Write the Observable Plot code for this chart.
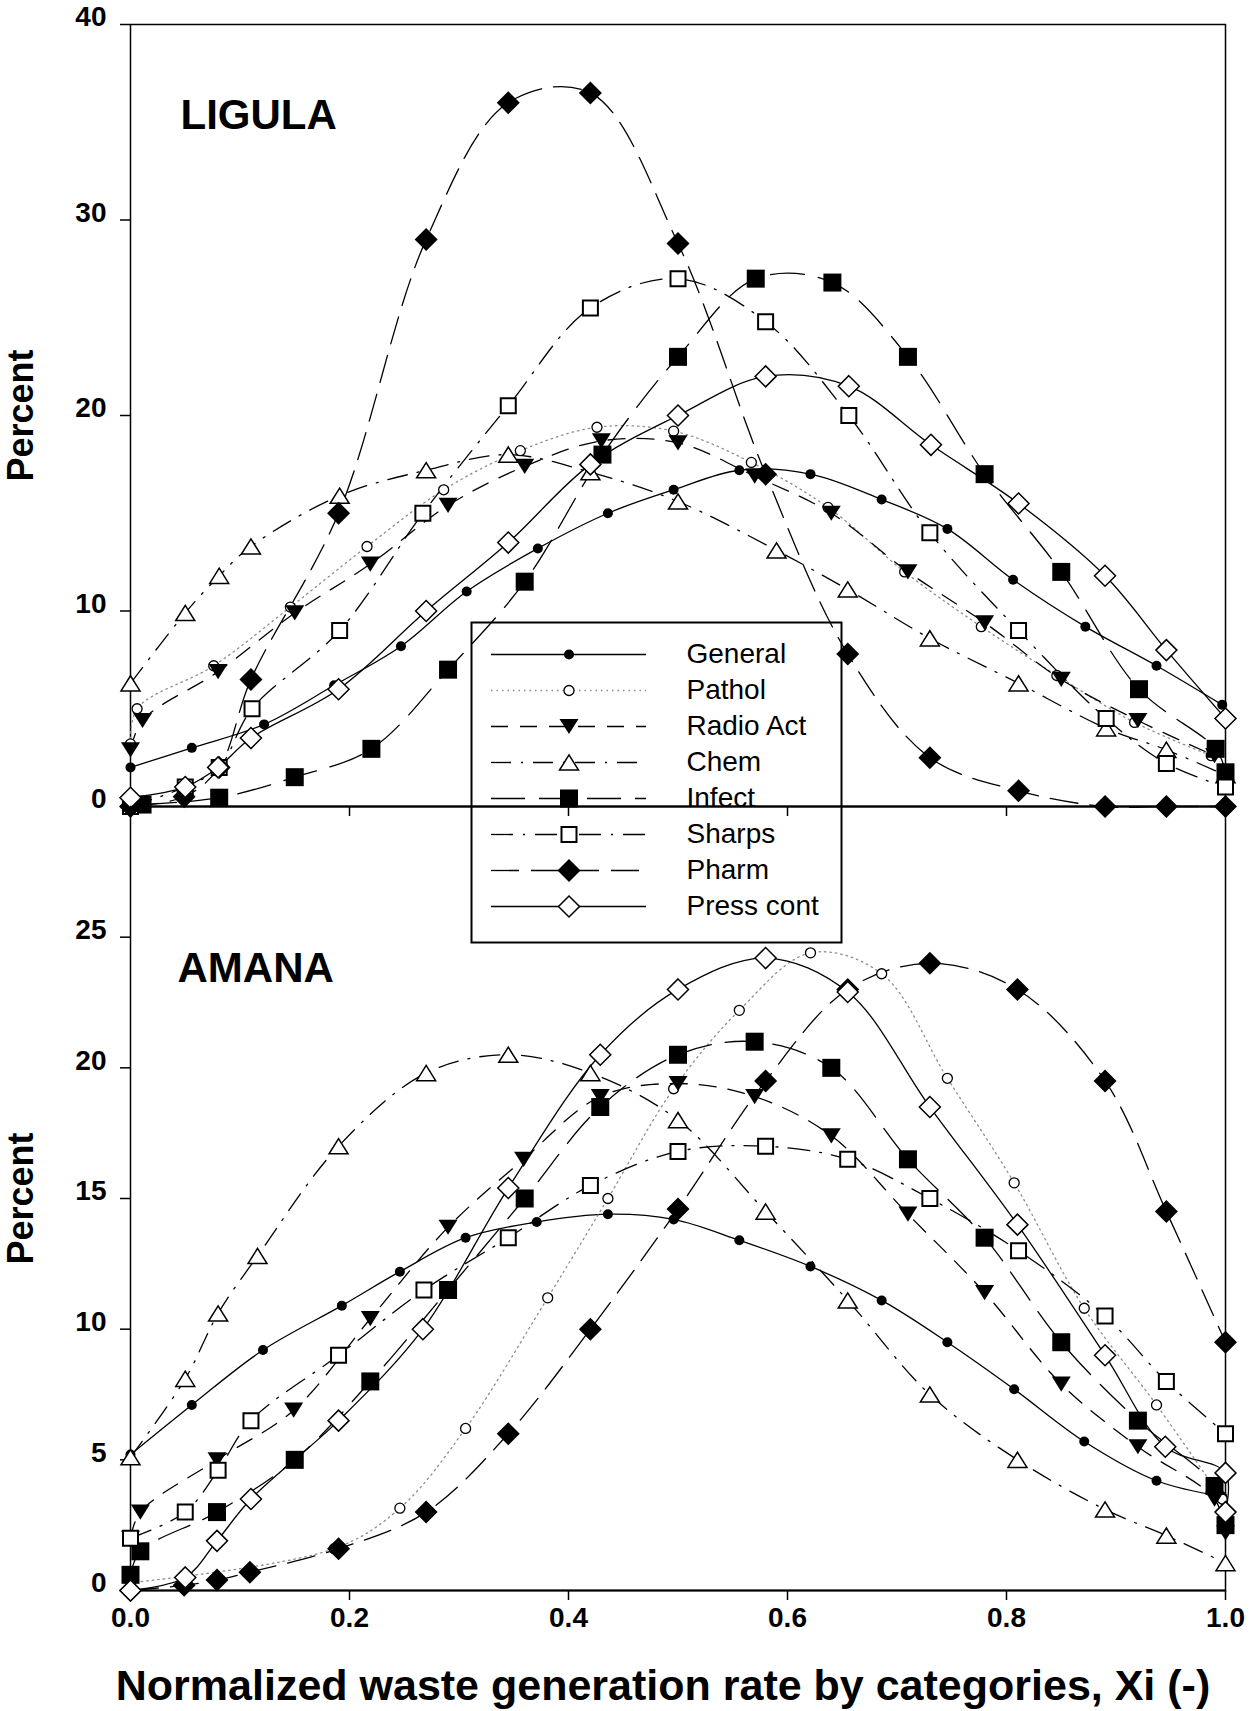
<!DOCTYPE html>
<html>
<head>
<meta charset="utf-8">
<script src="https://cdn.jsdelivr.net/npm/d3@7"></script>
<script src="https://cdn.jsdelivr.net/npm/@observablehq/plot@0.6"></script>
<style>
  html, body { margin: 0; padding: 0; background: #fff; }
  #chart { position: relative; width: 1250px; height: 1711px; overflow: hidden; background: #fff; }
  #chart > svg { position: absolute; left: 0; overflow: visible; background: transparent; }
</style>
</head>
<body>
<div id="chart"></div>
<script>
// ---- categories and ticks ----
const seriesNames = ["General", "Pathol", "Radio Act", "Chem", "Infect", "Sharps", "Pharm", "Press cont"];
const xTicks = [0, 0.2, 0.4, 0.6, 0.8, 1.0];
const yTicksLigula = [0, 10, 20, 30, 40];
const yTicksAmana = [0, 5, 10, 15, 20, 25];
const xTitle = "Normalized waste generation rate by categories, Xi (-)";

// ---- LIGULA: [Xi, percent] ----
const ligulaGeneral = [[0, 2.0], [0.056, 3.0], [0.122, 4.2], [0.186, 6.2], [0.247, 8.2], [0.307, 11.0], [0.372, 13.2], [0.436, 15.0], [0.496, 16.2], [0.556, 17.2], [0.621, 17.0], [0.686, 15.7], [0.746, 14.2], [0.806, 11.6], [0.872, 9.2], [0.937, 7.2], [0.997, 5.2]];
const ligulaPathol = [[0, 3.2], [0.006, 5.0], [0.076, 7.2], [0.146, 10.2], [0.216, 13.3], [0.286, 16.2], [0.356, 18.2], [0.426, 19.4], [0.496, 19.2], [0.567, 17.6], [0.637, 15.3], [0.707, 12.0], [0.777, 9.2], [0.846, 6.7], [0.917, 4.3], [0.987, 2.6]];
const ligulaRadioAct = [[0, 2.9], [0.011, 4.4], [0.080, 6.9], [0.150, 9.9], [0.219, 12.4], [0.290, 15.4], [0.360, 17.4], [0.430, 18.7], [0.500, 18.6], [0.570, 16.9], [0.640, 15.0], [0.710, 12.0], [0.780, 9.4], [0.850, 6.5], [0.920, 4.4], [0.990, 2.6]];
const ligulaChem = [[0, 6.3], [0.050, 9.9], [0.081, 11.8], [0.110, 13.3], [0.191, 15.9], [0.270, 17.2], [0.345, 18.0], [0.420, 17.1], [0.500, 15.6], [0.590, 13.1], [0.655, 11.1], [0.730, 8.6], [0.811, 6.3], [0.891, 4.0], [0.946, 2.9], [1.0, 1.6]];
const ligulaInfect = [[0.011, 0.1], [0.081, 0.45], [0.150, 1.5], [0.220, 2.95], [0.290, 7.0], [0.360, 11.5], [0.431, 18.0], [0.500, 23.0], [0.571, 27.0], [0.641, 26.8], [0.710, 23.0], [0.780, 17.0], [0.850, 12.0], [0.921, 6.0], [0.991, 2.95], [1.0, 1.75]];
const ligulaSharps = [[0, 0], [0.050, 1.0], [0.081, 2.0], [0.111, 5.0], [0.191, 9.0], [0.267, 15.0], [0.345, 20.5], [0.420, 25.5], [0.500, 27.0], [0.580, 24.8], [0.656, 20.0], [0.730, 14.0], [0.811, 9.0], [0.891, 4.5], [0.946, 2.2], [1.0, 1.0]];
const ligulaPharm = [[0, 0], [0.049, 0.5], [0.081, 2.0], [0.110, 6.5], [0.190, 15.0], [0.270, 29.0], [0.345, 36.0], [0.420, 36.5], [0.500, 28.8], [0.580, 17.0], [0.655, 7.8], [0.730, 2.5], [0.811, 0.8], [0.890, 0], [0.946, 0], [1.0, 0]];
const ligulaPressCont = [[0, 0.45], [0.050, 1.0], [0.080, 2.0], [0.110, 3.5], [0.190, 6.0], [0.270, 10.0], [0.345, 13.5], [0.420, 17.5], [0.500, 20.0], [0.580, 22.0], [0.656, 21.5], [0.731, 18.5], [0.811, 15.5], [0.890, 11.8], [0.946, 8.0], [1.0, 4.5]];

// ---- AMANA: [Xi, percent] ----
const amanaGeneral = [[0, 5.2], [0.056, 7.1], [0.121, 9.2], [0.193, 10.9], [0.246, 12.2], [0.306, 13.5], [0.371, 14.1], [0.436, 14.4], [0.496, 14.2], [0.556, 13.4], [0.621, 12.4], [0.686, 11.1], [0.746, 9.5], [0.807, 7.7], [0.871, 5.7], [0.937, 4.2], [0.997, 3.6]];
const amanaPathol = [[0, 0.3], [0.186, 1.6], [0.246, 3.15], [0.306, 6.2], [0.381, 11.2], [0.436, 15.0], [0.496, 19.2], [0.556, 22.2], [0.621, 24.4], [0.686, 23.6], [0.746, 19.6], [0.807, 15.6], [0.871, 10.8], [0.937, 7.1], [0.997, 3.5]];
const amanaRadioAct = [[0, 2.0], [0.009, 3.0], [0.079, 5.0], [0.149, 6.9], [0.219, 10.4], [0.290, 13.9], [0.359, 16.5], [0.429, 18.9], [0.500, 19.4], [0.570, 18.9], [0.640, 17.4], [0.710, 14.4], [0.780, 11.4], [0.850, 7.9], [0.920, 5.5], [0.990, 3.5], [1.0, 2.2]];
const amanaChem = [[0, 5.1], [0.050, 8.1], [0.080, 10.6], [0.116, 12.8], [0.190, 17.0], [0.270, 19.8], [0.345, 20.5], [0.420, 19.8], [0.500, 18.0], [0.580, 14.5], [0.655, 11.1], [0.730, 7.5], [0.810, 5.0], [0.890, 3.1], [0.946, 2.1], [1.0, 1.05]];
const amanaInfect = [[0, 0.6], [0.009, 1.5], [0.079, 3.0], [0.150, 5.0], [0.219, 8.0], [0.290, 11.5], [0.360, 15.0], [0.429, 18.5], [0.500, 20.5], [0.570, 21.0], [0.640, 20.0], [0.710, 16.5], [0.780, 13.5], [0.850, 9.5], [0.920, 6.5], [0.990, 4.0], [1.0, 2.5]];
const amanaSharps = [[0, 2.0], [0.050, 3.0], [0.080, 4.6], [0.110, 6.5], [0.190, 9.0], [0.268, 11.5], [0.345, 13.5], [0.420, 15.5], [0.500, 16.8], [0.580, 17.0], [0.655, 16.5], [0.730, 15.0], [0.811, 13.0], [0.890, 10.5], [0.946, 8.0], [1.0, 6.0]];
const amanaPharm = [[0, 0], [0.049, 0.2], [0.079, 0.4], [0.109, 0.7], [0.190, 1.6], [0.270, 3.0], [0.345, 6.0], [0.420, 10.0], [0.500, 14.6], [0.580, 19.5], [0.655, 23.0], [0.730, 24.0], [0.810, 23.0], [0.890, 19.5], [0.946, 14.5], [1.0, 9.5]];
const amanaPressCont = [[0, 0], [0.050, 0.5], [0.079, 1.9], [0.110, 3.5], [0.190, 6.5], [0.267, 10.0], [0.345, 15.4], [0.429, 20.5], [0.500, 23.0], [0.580, 24.2], [0.655, 22.9], [0.730, 18.5], [0.810, 14.0], [0.890, 9.0], [0.945, 5.5], [1.0, 4.5], [1.0, 3.0]];

const ligulaSeries = [ligulaGeneral, ligulaPathol, ligulaRadioAct, ligulaChem, ligulaInfect, ligulaSharps, ligulaPharm, ligulaPressCont];
const amanaSeries = [amanaGeneral, amanaPathol, amanaRadioAct, amanaChem, amanaInfect, amanaSharps, amanaPharm, amanaPressCont];

// ---- marker shapes (size is the area Plot derives from r) ----
const rad = size => Math.sqrt(size / Math.PI);
const squareSym = {draw(c, size) { const h = rad(size); c.moveTo(-h, -h); c.lineTo(h, -h); c.lineTo(h, h); c.lineTo(-h, h); c.closePath(); }};
const diamondSym = {draw(c, size) { const h = rad(size); c.moveTo(0, -h); c.lineTo(h, 0); c.lineTo(0, h); c.lineTo(-h, 0); c.closePath(); }};
const triDownSym = {draw(c, size) { const h = rad(size); c.moveTo(-h, -0.8 * h); c.lineTo(h, -0.8 * h); c.lineTo(0, 0.8 * h); c.closePath(); }};
const triUpSym = {draw(c, size) { const h = rad(size); c.moveTo(-h, 0.8 * h); c.lineTo(h, 0.8 * h); c.lineTo(0, -0.8 * h); c.closePath(); }};

const styles = {
  "General":    {dash: null, line: "#000", symbol: "circle", r: 5, fill: "#000", stroke: "none", sw: 0},
  "Pathol":     {dash: "1.5,4", line: "#8c8c8c", symbol: "circle", r: 5, fill: "#fff", stroke: "#000", sw: 1.3},
  "Radio Act":  {dash: "17,12", line: "#000", symbol: triDownSym, r: 9.5, fill: "#000", stroke: "none", sw: 0},
  "Chem":       {dash: "20,10,2,10", line: "#000", symbol: triUpSym, r: 9.5, fill: "#fff", stroke: "#000", sw: 1.5},
  "Infect":     {dash: "34,14", line: "#000", symbol: squareSym, r: 9, fill: "#000", stroke: "none", sw: 0},
  "Sharps":     {dash: "22,10,2,10", line: "#000", symbol: squareSym, r: 7.5, fill: "#fff", stroke: "#000", sw: 2},
  "Pharm":      {dash: "28,12", line: "#000", symbol: diamondSym, r: 11.5, fill: "#000", stroke: "none", sw: 0},
  "Press cont": {dash: null, line: "#000", symbol: diamondSym, r: 10.5, fill: "#fff", stroke: "#000", sw: 1.5}
};

const FONT = "'Liberation Sans', Arial, Helvetica, sans-serif";
const rootStyle = {fontFamily: FONT, fontSize: "28px", fontWeight: "bold", color: "#000"};

function seriesMarks(series) {
  const lines = series.map((data, i) => {
    const s = styles[seriesNames[i]];
    return Plot.line(data, {
      x: d => d[0], y: d => d[1], curve: "catmull-rom",
      stroke: s.line, strokeWidth: 1.3,
      strokeDasharray: s.dash ?? undefined
    });
  });
  const dots = series.map((data, i) => {
    const s = styles[seriesNames[i]];
    return Plot.dot(data, {
      x: d => d[0], y: d => d[1], symbol: s.symbol, r: s.r,
      fill: s.fill, stroke: s.stroke, strokeWidth: s.sw
    });
  });
  return [...lines, ...dots];
}

function panel({series, yDomain, yTicks, name, nameDx, nameDy, height, marginTop, marginBottom, xLabels}) {
  return Plot.plot({
    width: 1250, height,
    marginLeft: 130, marginRight: 25, marginTop, marginBottom,
    x: {domain: [0, 1]},
    y: {domain: yDomain},
    marks: [
      Plot.frame({stroke: "#000", strokeWidth: 1.5}),
      Plot.ruleY([0], {stroke: "#000", strokeWidth: 2}),
      Plot.axisY({ticks: yTicks, tickSize: 10, tickFormat: () => "", label: null, strokeWidth: 1.5}),
      Plot.axisX({ticks: xTicks, tickSize: 10, tickFormat: () => "", label: null, strokeWidth: 1.5}),
      Plot.text(yTicks, {y: d => d, text: d => String(d), frameAnchor: "left", textAnchor: "end",
        lineAnchor: "middle", dx: -24, dy: -7, fontSize: 28, fontWeight: "bold"}),
      ...(xLabels ? [
        Plot.text(xTicks, {x: d => d, text: d => d3.format(".1f")(d), frameAnchor: "bottom",
          textAnchor: "middle", lineAnchor: "middle", dy: 28, fontSize: 28, fontWeight: "bold"}),
        Plot.text([xTitle], {frameAnchor: "bottom", textAnchor: "middle", lineAnchor: "middle",
          dx: -15, dy: 96, fontSize: 43, fontWeight: "bold"})
      ] : []),
      Plot.text(["Percent"], {frameAnchor: "left", textAnchor: "middle", lineAnchor: "middle",
        rotate: -90, dx: -109.5, fontSize: 36, fontWeight: "bold"}),
      Plot.text([name], {frameAnchor: "top-left", textAnchor: "start", lineAnchor: "middle",
        dx: nameDx, dy: nameDy, fontSize: 42, fontWeight: "bold"}),
      ...seriesMarks(series)
    ]
  });
}

const topPlot = panel({
  series: ligulaSeries, yDomain: [0, 40], yTicks: yTicksLigula, name: "LIGULA",
  nameDx: 50, nameDy: 91, height: 826, marginTop: 24, marginBottom: 20, xLabels: false
});
const bottomPlot = panel({
  series: amanaSeries, yDomain: [0, 30], yTicks: yTicksAmana, name: "AMANA",
  nameDx: 47, nameDy: 162, height: 915, marginTop: 10, marginBottom: 121, xLabels: true
});

// legend box spanning both panels
const legendPlot = Plot.plot({
  width: 370, height: 320, margin: 0,
  x: {domain: [0, 1], range: [20, 175], axis: null},
  y: {type: "point", domain: seriesNames, range: [31, 284], padding: 0, axis: null},
  marks: [
    Plot.frame({stroke: "#000", strokeWidth: 2}),
    ...seriesNames.map(n => Plot.ruleY([n], {y: d => d, x1: 0, x2: 1, stroke: styles[n].line,
      strokeWidth: 1.3, strokeDasharray: styles[n].dash ?? undefined})),
    ...seriesNames.map(n => Plot.dot([n], {x: 0.5, y: d => d, symbol: styles[n].symbol, r: styles[n].r,
      fill: styles[n].fill, stroke: styles[n].stroke, strokeWidth: styles[n].sw})),
    Plot.text(seriesNames, {y: d => d, text: d => d, frameAnchor: "left", textAnchor: "start",
      lineAnchor: "middle", dx: 215, fontSize: 28, fontWeight: "normal"})
  ]
});

const chart = document.getElementById("chart");
const place = (svg, left, top) => {
  Object.assign(svg.style, rootStyle, {position: "absolute", left: left + "px", top: top + "px",
    overflow: "visible", background: "transparent", maxWidth: "none"});
  chart.append(svg);
};
place(topPlot, 0, 0);
place(bottomPlot, 0, 796);
place(legendPlot, 471, 622);
</script>
</body>
</html>
